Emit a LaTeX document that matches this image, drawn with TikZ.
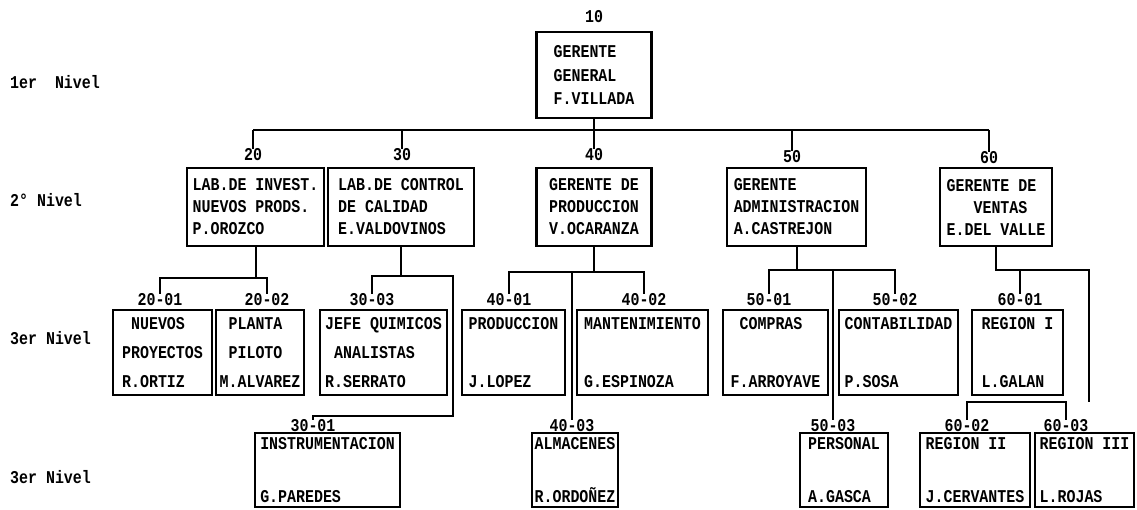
\documentclass[tikz,border=0pt]{standalone}
\usepackage{fontspec}
\usepackage{tikz}
\usetikzlibrary{calc}
\newfontfamily\maquina{Liberation Mono}[FakeStretch=0.83]
\tikzset{
  caja/.style = {draw=black, line width=2.5pt, rectangle, align=left, inner sep=0pt},
  caja_a/.style = {caja, minimum height=78pt, font=\maquina\bfseries\fontsize{18}{22}\selectfont},
  caja_b/.style = {caja, minimum height=85pt, font=\maquina\bfseries\fontsize{18}{29}\selectfont},
  caja_c/.style = {caja, minimum height=74pt, font=\maquina\bfseries\fontsize{18}{26.5}\selectfont},
  clave/.style = {inner sep=0pt, font=\maquina\bfseries\fontsize{18}{18}\selectfont},
  nivel/.style = {clave, anchor=west},
  linea/.style = {draw=black, line width=2pt}
}
\begin{document}
\begin{tikzpicture}[x=1pt,y=-1pt]
\useasboundingbox (0,0) rectangle (1137,510);

\node[nivel] (niv1) at (10,82) {1er~~Nivel};
\node[nivel] (niv2) at (10,200) {2° Nivel};
\node[nivel] (niv3) at (10,338) {3er Nivel};
\node[nivel] (niv4) at (10,477) {3er Nivel};

\node[clave] (l10) at (594,17) {10};
\node[caja_a, minimum width=115pt, minimum height=86pt, font=\maquina\bfseries\fontsize{18}{23.5}\selectfont] (n10) at (594,75) {GERENTE\\GENERAL\\F.VILLADA};

\node[clave] (l20) at (253,155) {20};
\node[caja_a, minimum width=137pt] (n20) at (255.5,207) {LAB.DE INVEST.\\NUEVOS PRODS.\\P.OROZCO};
\node[clave] (l30) at (402,155) {30};
\node[caja_a, minimum width=146pt] (n30) at (401,207) {LAB.DE CONTROL\\DE CALIDAD\\E.VALDOVINOS};
\node[clave] (l40) at (594,155) {40};
\node[caja_a, minimum width=115pt] (n40) at (594,207) {GERENTE DE\\PRODUCCION\\V.OCARANZA};
\node[clave] (l50) at (792,157) {50};
\node[caja_a, minimum width=139pt] (n50) at (796.5,207) {GERENTE\\ADMINISTRACION\\A.CASTREJON};
\node[clave] (l60) at (989,158) {60};
\node[caja_a, minimum width=112pt] (n60) at (996,207) {GERENTE DE\\~~~VENTAS\\E.DEL VALLE};

\node[clave] (l2001) at (160,300) {20-01};
\node[caja_b, minimum width=99pt] (n2001) at (162.5,352.5) {~NUEVOS\\PROYECTOS\\R.ORTIZ};
\node[clave] (l2002) at (267,300) {20-02};
\node[caja_b, minimum width=88pt] (n2002) at (260,352.5) {~PLANTA\\~PILOTO\\M.ALVAREZ};
\node[clave] (l3003) at (372,300) {30-03};
\node[caja_b, minimum width=127pt] (n3003) at (383.5,352.5) {JEFE QUIMICOS\\~ANALISTAS\\R.SERRATO};
\node[clave] (l4001) at (509,300) {40-01};
\node[caja_b, minimum width=103pt] (n4001) at (513.5,352.5) {PRODUCCION\\~\\J.LOPEZ};
\node[clave] (l4002) at (644,300) {40-02};
\node[caja_b, minimum width=131pt] (n4002) at (642.5,352.5) {MANTENIMIENTO\\~\\G.ESPINOZA};
\node[clave] (l5001) at (769,300) {50-01};
\node[caja_b, minimum width=105pt] (n5001) at (775.5,352.5) {~COMPRAS\\~\\F.ARROYAVE};
\node[clave] (l5002) at (895,300) {50-02};
\node[caja_b, minimum width=119pt] (n5002) at (898.5,352.5) {CONTABILIDAD\\~\\P.SOSA};
\node[clave] (l6001) at (1020,300) {60-01};
\node[caja_b, minimum width=91pt] (n6001) at (1017.5,352.5) {REGION I\\~\\L.GALAN};

\node[clave] (l3001) at (313,426) {30-01};
\node[caja_c, minimum width=145pt] (n3001) at (327.5,470) {INSTRUMENTACION\\~\\G.PAREDES};
\node[clave] (l4003) at (572,426) {40-03};
\node[caja_c, minimum width=86pt] (n4003) at (575,470) {ALMACENES\\~\\R.ORDOÑEZ};
\node[clave] (l5003) at (833,426) {50-03};
\node[caja_c, minimum width=88pt] (n5003) at (844,470) {PERSONAL\\~\\A.GASCA};
\node[clave] (l6002) at (967,426) {60-02};
\node[caja_c, minimum width=110pt] (n6002) at (975,470) {REGION II\\~\\J.CERVANTES};
\node[clave] (l6003) at (1066,426) {60-03};
\node[caja_c, minimum width=99pt] (n6003) at (1084.5,470) {REGION III\\~\\L.ROJAS};

% primer nivel
\coordinate (b1) at (0,130);
\draw[linea] (n10.south) -- (n10.south |- b1);
\draw[linea] (l20.north |- b1) -- (l60.north |- b1);
\foreach \n in {20,30,40,50,60}
  \draw[linea] (l\n.north |- b1) -- (l\n.north);

% segundo nivel
\coordinate (b20) at (0,278);
\draw[linea] (n20.south) -- (n20.south |- b20);
\draw[linea] (l2001.north) |- (l2002.north |- b20) -- (l2002.north);

\coordinate (e30a) at (453,276);
\coordinate (e30b) at (453,416);
\draw[linea] (n30.south) -- (n30.south |- e30a);
\draw[linea] (l3003.north) |- (e30a) -- (e30b) -| (l3001.north);

\coordinate (b40) at (0,272);
\draw[linea] (n40.south) -- (n40.south |- b40);
\draw[linea] (l4001.north) |- (l4002.north |- b40) -- (l4002.north);
\draw[linea] (l4003.north) -- (l4003.north |- b40);

\coordinate (b50) at (0,270);
\draw[linea] (n50.south) -- (n50.south |- b50);
\draw[linea] (l5001.north) |- (l5002.north |- b50) -- (l5002.north);
\draw[linea] (l5003.north) -- (l5003.north |- b50);

\coordinate (e60a) at (1089,270);
\coordinate (e60b) at (1089,402);
\draw[linea] (n60.south) |- (e60a) -- (e60b);
\draw[linea] (l6001.north) -- (l6001.north |- e60a);
\draw[linea] (l6002.north) |- (l6003.north |- e60b) -- (l6003.north);
\end{tikzpicture}
\end{document}
